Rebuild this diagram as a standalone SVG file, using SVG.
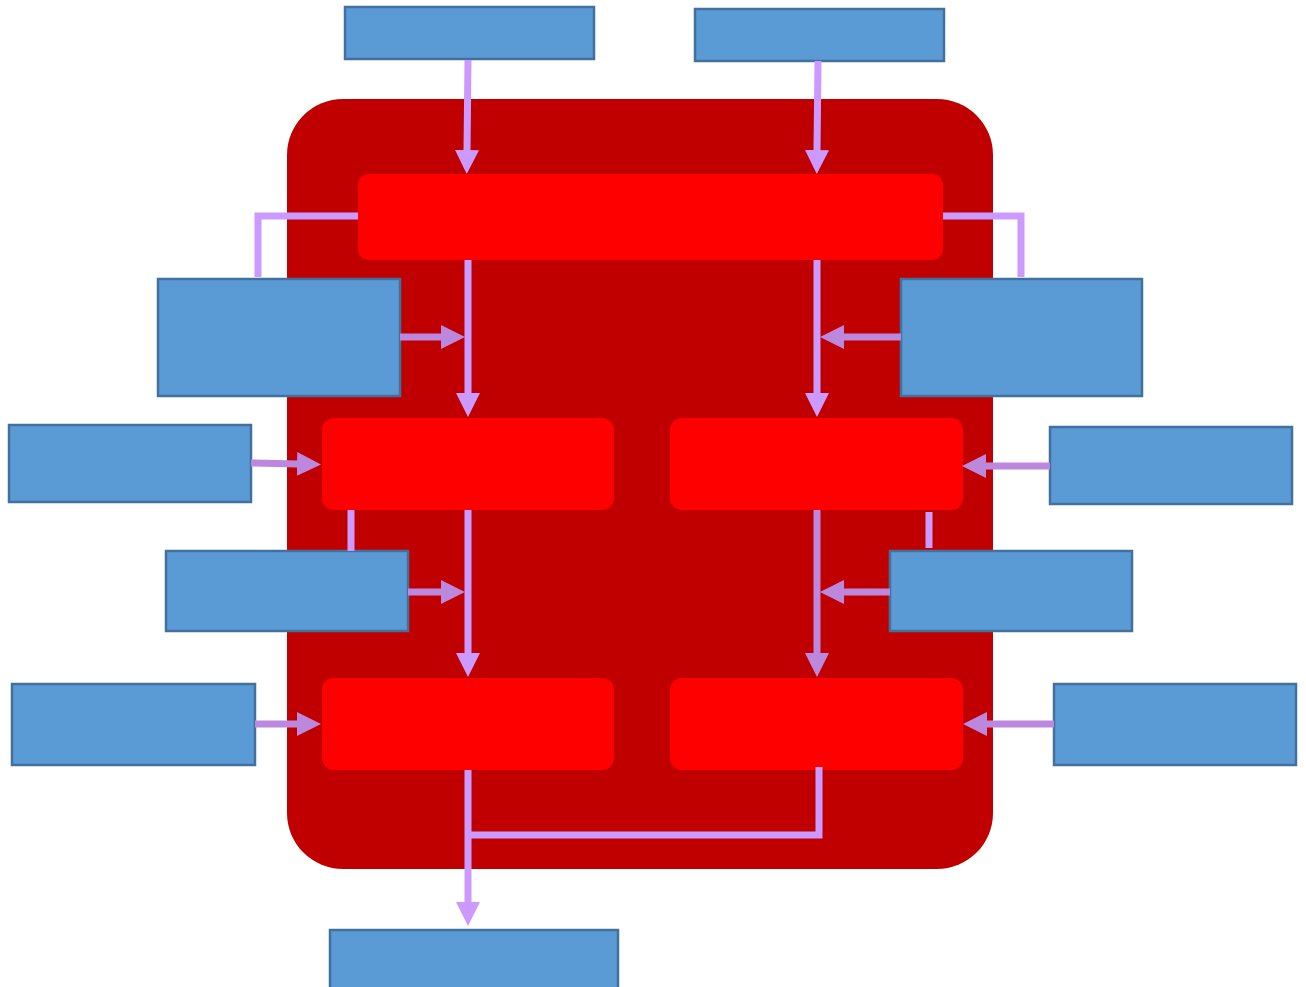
<svg xmlns="http://www.w3.org/2000/svg" width="1306" height="987" viewBox="0 0 1306 987">
  <style>
    .frame { fill: #C00000; }
    .stage { fill: #FF0000; }
    .input { fill: #5B9BD5; stroke: #41719C; stroke-width: 2.5; }
    .flow { fill: none; stroke: #CC99FF; stroke-width: 7; stroke-linejoin: miter; }
    .feed { fill: none; stroke: #BB88DD; stroke-width: 7; }
  </style>
  <defs>
    <!-- heads are anchored at their base so the shaft stops where the triangle begins -->
    <marker id="headLight" markerUnits="userSpaceOnUse" markerWidth="24" markerHeight="24" viewBox="0 0 24 24" refX="1" refY="12" orient="auto">
      <path d="M0,0 L24,12 L0,24 Z" fill="#CC99FF"/>
    </marker>
    <marker id="headDark" markerUnits="userSpaceOnUse" markerWidth="24" markerHeight="24" viewBox="0 0 24 24" refX="1" refY="12" orient="auto">
      <path d="M0,0 L24,12 L0,24 Z" fill="#BB88DD"/>
    </marker>
  </defs>

  <!-- container -->
  <g id="container">
    <rect class="frame" x="287" y="99" width="706" height="770" rx="56" ry="56"/>
  </g>

  <!-- processing stages -->
  <g id="stage-top"><rect class="stage" x="358" y="174" width="585" height="86" rx="11"/></g>
  <g id="stage-mid-left"><rect class="stage" x="322" y="418" width="292" height="92" rx="12"/></g>
  <g id="stage-mid-right"><rect class="stage" x="670" y="418" width="293" height="92" rx="12"/></g>
  <g id="stage-low-left"><rect class="stage" x="322" y="678" width="292" height="92" rx="12"/></g>
  <g id="stage-low-right"><rect class="stage" x="670" y="678" width="293" height="92" rx="12"/></g>

  <!-- inputs / outputs -->
  <g id="in-top-1"><rect class="input" x="345" y="7" width="249" height="52"/></g>
  <g id="in-top-2"><rect class="input" x="695" y="9" width="249" height="52"/></g>
  <g id="in-left-upper"><rect class="input" x="158" y="279" width="242" height="117"/></g>
  <g id="in-right-upper"><rect class="input" x="901" y="279" width="241" height="117"/></g>
  <g id="in-left-mid"><rect class="input" x="9" y="425" width="242" height="77"/></g>
  <g id="in-right-mid"><rect class="input" x="1050" y="427" width="242" height="77"/></g>
  <g id="in-left-lower"><rect class="input" x="166" y="551" width="242" height="80"/></g>
  <g id="in-right-lower"><rect class="input" x="890" y="551" width="242" height="80"/></g>
  <g id="in-left-bottom"><rect class="input" x="12" y="684" width="243" height="81"/></g>
  <g id="in-right-bottom"><rect class="input" x="1054" y="684" width="242" height="81"/></g>
  <g id="out-bottom"><rect class="input" x="330" y="930" width="288" height="60"/></g>

  <!-- connectors -->
  <g id="connectors">
    <path class="flow" d="M468,60 L467,151" marker-end="url(#headLight)"/>
    <path class="flow" d="M818,61 L817,151" marker-end="url(#headLight)"/>
    <path class="flow" d="M358,216 L258,216 L258,277"/>
    <path class="flow" d="M943,216 L1021,216 L1021,277"/>
    <path class="flow" d="M468,260 L468,394" marker-end="url(#headLight)"/>
    <path class="flow" d="M817,260 L817,394" marker-end="url(#headLight)"/>
    <path class="feed" d="M400,337 L442,337" marker-end="url(#headDark)"/>
    <path class="feed" d="M901,337 L843,337" marker-end="url(#headDark)"/>
    <path class="feed" d="M251,463 L298,464" marker-end="url(#headDark)"/>
    <path class="feed" d="M1050,466 L985,466" marker-end="url(#headDark)"/>
    <path class="flow" d="M468,510 L468,654" marker-end="url(#headLight)"/>
    <path class="feed" d="M817,510 L817,654" marker-end="url(#headDark)"/>
    <path class="flow" d="M351,510 L351,551"/>
    <path class="flow" d="M929,512 L929,548"/>
    <path class="feed" d="M408,592 L442,592" marker-end="url(#headDark)"/>
    <path class="feed" d="M890,592 L843,592" marker-end="url(#headDark)"/>
    <path class="feed" d="M255,724 L298,724" marker-end="url(#headDark)"/>
    <path class="feed" d="M1054,724 L986,724" marker-end="url(#headDark)"/>
    <path class="flow" d="M468,770 L468,903" marker-end="url(#headLight)"/>
    <path class="flow" d="M819,767 L819,835 L468,835"/>
  </g>
</svg>
